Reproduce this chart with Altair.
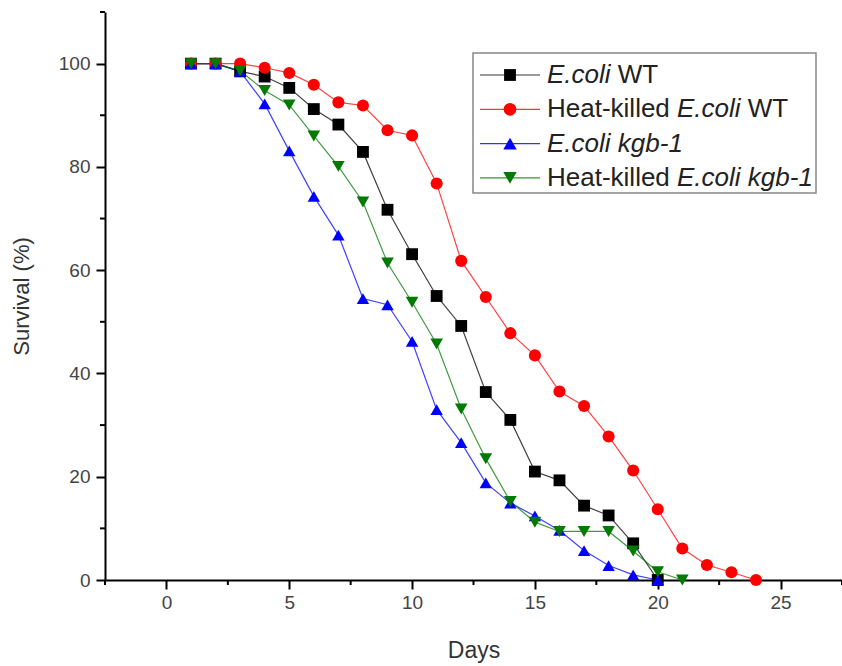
import altair as alt
import pandas as pd

# ---------------- data ----------------
series = ["E.coli WT", "Heat-killed E.coli WT", "E.coli kgb-1", "Heat-killed E.coli kgb-1"]
colors = ["#000000", "#ff0000", "#0000ff", "#007a00"]
shapes = ["square", "circle", "triangle-up", "triangle-down"]
sizes = [140, 160, 180, 180]

days_ecoli_wt = list(range(1, 21))
ecoli_wt = [100, 100, 98.5, 97.5, 95.3, 91.2, 88.2, 82.9, 71.7, 63.1,
            55.0, 49.2, 36.4, 31.0, 21.0, 19.3, 14.4, 12.5, 7.1, 0]

days_heat_wt = list(range(1, 25))
heat_wt = [100, 100, 100, 99.2, 98.2, 95.9, 92.5, 91.9, 87.1, 86.1,
           76.8, 61.8, 54.8, 47.8, 43.5, 36.5, 33.7, 27.8, 21.2, 13.7,
           6.1, 2.9, 1.5, 0]

days_ecoli_kgb = list(range(1, 21))
ecoli_kgb = [100, 100, 98.5, 92.2, 83.1, 74.3, 66.8, 54.5, 53.3, 46.2,
             33.0, 26.6, 18.8, 14.9, 12.4, 9.6, 5.7, 2.8, 1.0, 0]

days_heat_kgb = list(range(1, 22))
heat_kgb = [100, 100, 98.6, 94.8, 92.0, 86.0, 80.1, 73.2, 61.4, 53.8,
            45.7, 33.1, 23.5, 15.2, 11.2, 9.4, 9.4, 9.4, 5.6, 1.6, 0]

x_ticks = [0, 5, 10, 15, 20, 25]
x_minor = [-2.5, 2.5, 7.5, 12.5, 17.5, 22.5, 27.5]
y_ticks = [0, 20, 40, 60, 80, 100]
y_minor = [10, 30, 50, 70, 90, 110]

legend_parts = [
    [("E.coli", "italic"), (" WT", "normal")],
    [("Heat-killed ", "normal"), ("E.coli", "italic"), (" WT", "normal")],
    [("E.coli kgb-1", "italic")],
    [("Heat-killed ", "normal"), ("E.coli kgb-1", "italic")],
]

# ---------------- table ----------------
all_days = [days_ecoli_wt, days_heat_wt, days_ecoli_kgb, days_heat_kgb]
all_vals = [ecoli_wt, heat_wt, ecoli_kgb, heat_kgb]
rows = []
for i, (s, ds, vs) in enumerate(zip(series, all_days, all_vals)):
    for d, v in zip(ds, vs):
        rows.append({"series": s, "idx": i, "day": d, "survival": v})
df = pd.DataFrame(rows)

W, H = 737, 568
FONT = "Liberation Sans"

xscale = alt.Scale(domain=[-2.5, 27.5], nice=False, zero=False)
yscale = alt.Scale(domain=[0, 110], nice=False, zero=False)
cscale = alt.Scale(domain=series, range=colors)
sscale = alt.Scale(domain=series, range=shapes)
zscale = alt.Scale(domain=series, range=sizes)

x_axis = alt.Axis(values=x_ticks, format="d", title="Days", grid=False,
                  domainColor="black", domainWidth=2, tickColor="black", tickWidth=2,
                  tickSize=9, labelFont=FONT, labelFontSize=19, labelColor="#444",
                  labelPadding=4, titleFont=FONT, titleFontSize=23, titleColor="#333",
                  titleFontWeight="normal", titlePadding=27)
y_axis = alt.Axis(values=y_ticks, format="d", title="Survival (%)", grid=False,
                  domainColor="black", domainWidth=2, tickColor="black", tickWidth=2,
                  tickSize=9, labelFont=FONT, labelFontSize=19, labelColor="#444",
                  labelPadding=6, titleFont=FONT, titleFontSize=22, titleColor="#333",
                  titleFontWeight="normal", titlePadding=25)

base = alt.Chart(df)
lines = base.mark_line(strokeWidth=1.2, opacity=0.75).encode(
    x=alt.X("day:Q", scale=xscale, axis=x_axis),
    y=alt.Y("survival:Q", scale=yscale, axis=y_axis),
    color=alt.Color("series:N", scale=cscale, legend=None),
    detail="series:N",
)
points = base.mark_point(filled=True, opacity=1).encode(
    x=alt.X("day:Q", scale=xscale),
    y=alt.Y("survival:Q", scale=yscale),
    color=alt.Color("series:N", scale=cscale, legend=None),
    shape=alt.Shape("series:N", scale=sscale, legend=None),
    size=alt.Size("series:N", scale=zscale, legend=None),
)

minor_x = alt.Chart(pd.DataFrame({"day": x_minor})).mark_rule(color="black", strokeWidth=2).encode(
    x=alt.X("day:Q", scale=xscale), y=alt.value(H), y2=alt.value(H + 5))
minor_y = alt.Chart(pd.DataFrame({"survival": y_minor})).mark_rule(color="black", strokeWidth=2).encode(
    y=alt.Y("survival:Q", scale=yscale), x=alt.value(0), x2=alt.value(-5))

layers = [lines, points, minor_x, minor_y]

# ---------------- custom legend ----------------
one = pd.DataFrame({"a": [0]})
LX0, LX1, LY0, LY1 = 368, 711, 41, 181
layers.append(alt.Chart(one).mark_rect(fill="white", stroke="#888", strokeWidth=1.5).encode(
    x=alt.value(LX0), x2=alt.value(LX1), y=alt.value(LY0), y2=alt.value(LY1)))

cw = {"H": .722, "e": .556, "a": .556, "t": .278, "-": .333, "k": .5, "i": .222, "l": .222,
      "d": .556, " ": .278, "E": .667, ".": .278, "c": .5, "o": .556, "W": .944,
      "T": .611, "g": .556, "b": .556, "1": .556}
LFS = 26
for i, s in enumerate(series):
    yy = 63 + i * 34.3
    layers.append(alt.Chart(one).mark_rule(color=colors[i], strokeWidth=1.2, opacity=0.8).encode(
        x=alt.value(375), x2=alt.value(435), y=alt.value(yy)))
    layers.append(alt.Chart(one).mark_point(filled=True, opacity=1, color=colors[i],
                                            shape=shapes[i], size=sizes[i]).encode(
        x=alt.value(405), y=alt.value(yy)))
    tx = 442
    for text, style in legend_parts[i]:
        lead = len(text) - len(text.lstrip(" "))
        tx += lead * cw[" "] * LFS
        body = text.strip(" ")
        layers.append(alt.Chart(pd.DataFrame({"t": [body]})).mark_text(
            align="left", baseline="middle", font=FONT, fontSize=LFS, fontStyle=style,
            color="#222").encode(text="t:N", x=alt.value(tx), y=alt.value(yy)))
        tx += sum(cw.get(ch, 0.55) for ch in text.lstrip(" ")) * LFS

chart = alt.layer(*layers).properties(
    width=W, height=H,
    autosize=alt.AutoSizeParams(type="none"),
    padding={"left": 105, "top": 12, "right": 0, "bottom": 86},
    background="white",
).configure_view(stroke=None)

chart.save("out.html", embed_options={"renderer": "svg", "actions": False})
